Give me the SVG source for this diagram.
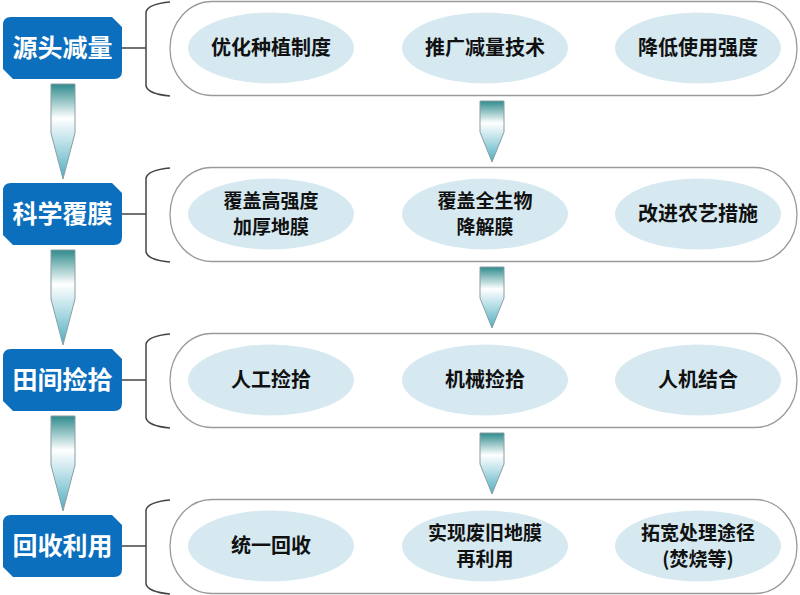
<svg xmlns="http://www.w3.org/2000/svg" width="800" height="595" viewBox="0 0 800 595">
<defs>
<linearGradient id="ag" x1="0" y1="0" x2="0" y2="1">
<stop offset="0" stop-color="#2f8b8d"/>
<stop offset="0.36" stop-color="#ffffff"/>
<stop offset="0.6" stop-color="#bfe2ea"/>
<stop offset="1" stop-color="#4eaec0"/>
</linearGradient>
<path id="box" d="M11,17 H112 L122,27 V71 Q122,79 114,79 H13 L3,69 V25 Q3,17 11,17 Z"/>
<path id="brace" d="M170,2 Q148,4 146,12 V86 Q148,94 170,96 M122,48 H146"/>
<rect id="pill" x="170" y="1.5" width="627" height="94" rx="42" ry="47"/>
<path id="larrow" d="M51,84 H75 V133 L63,179 L51,133 Z"/>
<path id="marrow" d="M480,101 H504 V132 L492,162 L480,132 Z"/>
</defs>
<style>
.box{fill:#0b6fbd}
.bt{font-family:"Noto Sans CJK SC","Noto Sans",sans-serif;font-weight:bold;font-size:25px;fill:#ffffff;text-anchor:middle}
.pill{fill:#ffffff;stroke:#9a9a9a;stroke-width:1.3}
.brace{fill:none;stroke:#444444;stroke-width:1.5}
.ell{fill:#d6e9f1}
.et{font-family:"Noto Sans CJK SC","Noto Sans",sans-serif;font-weight:bold;font-size:20px;fill:#111111;text-anchor:middle}
.et2{font-size:19px}
.arr{fill:url(#ag);stroke:#8a9ea2;stroke-width:1}
</style>

<g id="connectors">
<use href="#brace" class="brace"/>
<use href="#brace" class="brace" transform="translate(0,166)"/>
<use href="#brace" class="brace" transform="translate(0,332)"/>
<use href="#brace" class="brace" transform="translate(0,498)"/>
<use href="#larrow" class="arr"/>
<use href="#larrow" class="arr" transform="translate(0,166)"/>
<use href="#larrow" class="arr" transform="translate(0,332)"/>
<use href="#marrow" class="arr"/>
<use href="#marrow" class="arr" transform="translate(0,166)"/>
<use href="#marrow" class="arr" transform="translate(0,332)"/>
</g>

<g id="row1">
<g id="stage1"><use href="#box" class="box"/><text class="bt" x="62.5" y="57">源头减量</text></g>
<g id="group1"><use href="#pill" class="pill"/></g>
<g id="n1a"><ellipse class="ell" cx="271" cy="48" rx="83" ry="35.5"/><text class="et" x="271" y="55">优化种植制度</text></g>
<g id="n1b"><ellipse class="ell" cx="485" cy="48" rx="83" ry="35.5"/><text class="et" x="485" y="55">推广减量技术</text></g>
<g id="n1c"><ellipse class="ell" cx="698" cy="48" rx="83" ry="35.5"/><text class="et" x="698" y="55">降低使用强度</text></g>
</g>

<g id="row2">
<g id="stage2"><use href="#box" class="box" transform="translate(0,166)"/><text class="bt" x="62.5" y="223">科学覆膜</text></g>
<g id="group2"><use href="#pill" class="pill" transform="translate(0,166)"/></g>
<g id="n2a"><ellipse class="ell" cx="271" cy="214" rx="83" ry="35.5"/><text class="et et2" x="271" y="208">覆盖高强度<tspan x="271" dy="26">加厚地膜</tspan></text></g>
<g id="n2b"><ellipse class="ell" cx="485" cy="214" rx="83" ry="35.5"/><text class="et et2" x="485" y="208">覆盖全生物<tspan x="485" dy="26">降解膜</tspan></text></g>
<g id="n2c"><ellipse class="ell" cx="698" cy="214" rx="83" ry="35.5"/><text class="et" x="698" y="221">改进农艺措施</text></g>
</g>

<g id="row3">
<g id="stage3"><use href="#box" class="box" transform="translate(0,332)"/><text class="bt" x="62.5" y="389">田间捡拾</text></g>
<g id="group3"><use href="#pill" class="pill" transform="translate(0,332)"/></g>
<g id="n3a"><ellipse class="ell" cx="271" cy="380" rx="83" ry="35.5"/><text class="et" x="271" y="387">人工捡拾</text></g>
<g id="n3b"><ellipse class="ell" cx="485" cy="380" rx="83" ry="35.5"/><text class="et" x="485" y="387">机械捡拾</text></g>
<g id="n3c"><ellipse class="ell" cx="698" cy="380" rx="83" ry="35.5"/><text class="et" x="698" y="387">人机结合</text></g>
</g>

<g id="row4">
<g id="stage4"><use href="#box" class="box" transform="translate(0,498)"/><text class="bt" x="62.5" y="555">回收利用</text></g>
<g id="group4"><use href="#pill" class="pill" transform="translate(0,498)"/></g>
<g id="n4a"><ellipse class="ell" cx="271" cy="546" rx="83" ry="35.5"/><text class="et" x="271" y="553">统一回收</text></g>
<g id="n4b"><ellipse class="ell" cx="485" cy="546" rx="83" ry="35.5"/><text class="et et2" x="485" y="540">实现废旧地膜<tspan x="485" dy="26">再利用</tspan></text></g>
<g id="n4c"><ellipse class="ell" cx="698" cy="546" rx="83" ry="35.5"/><text class="et et2" x="698" y="540">拓宽处理途径<tspan x="698" dy="26">(焚烧等)</tspan></text></g>
</g>
</svg>
